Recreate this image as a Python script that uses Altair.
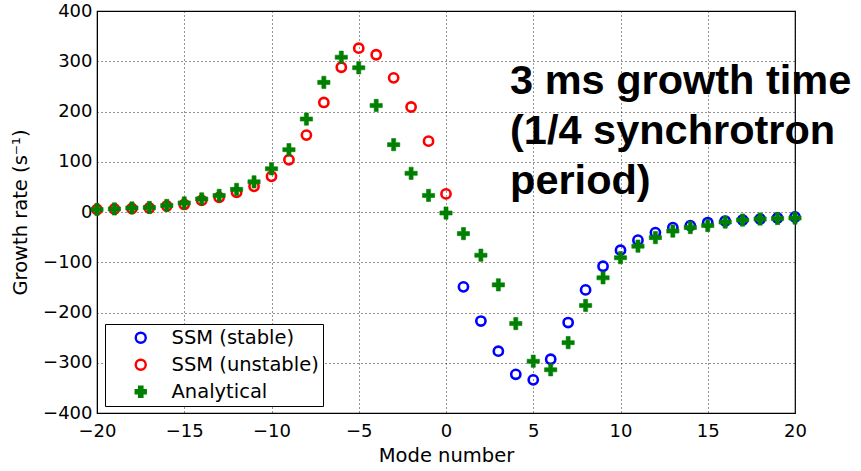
import altair as alt
import pandas as pd

stable_x = list(range(1, 21))
stable_y = [-149, -217, -277, -323, -334, -293, -220, -155, -108, -76,
            -56, -41, -31, -27, -21, -18, -16, -14, -12, -10]

unstable_x = list(range(-20, 1))
unstable_y = [5, 6, 7, 8, 12, 15, 23, 29, 39, 51, 71, 104, 153, 218, 288,
              326, 313, 267, 209, 141, 36]

analytical_x = list(range(-20, 21))
analytical_y = [5, 6, 8, 9, 13, 18, 26, 33, 45, 60, 86, 124, 185, 258, 308,
                287, 212, 134, 77, 33, -2,
                -43, -86, -145, -222, -297, -314, -260, -186, -131, -91,
                -68, -51, -38, -31, -27, -20, -16, -14, -13, -12]

series = ["SSM (stable)", "SSM (unstable)", "Analytical"]
colors = ["#0000ff", "#ff0000", "#008000"]
fills = ["transparent", "transparent", "#008000"]
plus_path = ("M-0.33,-1L0.33,-1L0.33,-0.33L1,-0.33L1,0.33L0.33,0.33L0.33,1"
             "L-0.33,1L-0.33,0.33L-1,0.33L-1,-0.33L-0.33,-0.33Z")
shapes = ["circle", "circle", plus_path]

rows = []
for name, xs, ys in [(series[0], stable_x, stable_y),
                     (series[1], unstable_x, unstable_y),
                     (series[2], analytical_x, analytical_y)]:
    for x, y in zip(xs, ys):
        rows.append({"mode": x, "rate": y, "series": name})
df = pd.DataFrame(rows)

note_df = pd.DataFrame({"mode": [3.67], "rate": [234],
                        "text": ["3 ms growth time\n(1/4 synchrotron\nperiod)"]})

FONT = "DejaVu Sans"
NOTE_FONT = "Liberation Sans"

xscale = alt.Scale(domain=[-20, 20], nice=False, zero=False)
yscale = alt.Scale(domain=[-400, 400], nice=False, zero=False)

legend = alt.Legend(orient="none", legendX=8, legendY=313,
                    padding=4, symbolOffset=22, labelOffset=21,
                    rowPadding=6, labelFontSize=19.5,
                    labelFont=FONT, labelColor="black",
                    symbolSize=100, symbolStrokeWidth=2.4,
                    strokeColor="black", fillColor="white")

enc = dict(
    x=alt.X("mode:Q", scale=xscale,
            axis=alt.Axis(title="Mode number", values=list(range(-20, 21, 5)))),
    y=alt.Y("rate:Q", scale=yscale,
            axis=alt.Axis(title="Growth rate (s⁻¹)", values=list(range(-400, 401, 100)))),
    color=alt.Color("series:N", scale=alt.Scale(domain=series, range=colors),
                    title=None, legend=legend),
    fill=alt.Fill("series:N", scale=alt.Scale(domain=series, range=fills),
                  title=None, legend=legend),
    shape=alt.Shape("series:N", scale=alt.Scale(domain=series, range=shapes),
                    title=None, legend=legend),
)

base = alt.Chart(df)
circles = base.transform_filter(alt.datum.series != "Analytical").mark_point(
    opacity=1, size=85, strokeWidth=2.6).encode(**enc)
crosses = base.transform_filter(alt.datum.series == "Analytical").mark_point(
    opacity=1, size=150, strokeWidth=0.6).encode(**enc)

note = alt.Chart(note_df).mark_text(
    align="left", baseline="alphabetic", font=NOTE_FONT, fontSize=41.5,
    fontWeight="bold", lineHeight=50, lineBreak="\n", color="black"
).encode(x=alt.X("mode:Q", scale=xscale), y=alt.Y("rate:Q", scale=yscale),
         text="text:N")

chart = alt.layer(circles, crosses, note).properties(
    width=698, height=402,
    autosize=alt.AutoSizeParams(type="none"),
    padding={"left": 97, "top": 11, "right": 66, "bottom": 58},
).configure_view(stroke="black", strokeWidth=1.2).configure_axis(
    grid=True, gridColor="black", gridDash=[1, 3], gridOpacity=0.85,
    gridWidth=1, domain=True, domainColor="black", tickColor="black",
    tickSize=0, labelFont=FONT, labelFontSize=18, labelColor="black",
    labelFlush=False, labelOverlap=False,
    titleFont=FONT, titleFontSize=19.5, titleFontWeight="normal",
    titleColor="black", labelPadding=5,
).configure_axisY(titleX=-77, titleBaseline="middle"
).configure_axisX(titlePadding=6, labelPadding=9)

chart.save("out.html", embed_options={"renderer": "svg", "actions": False})
